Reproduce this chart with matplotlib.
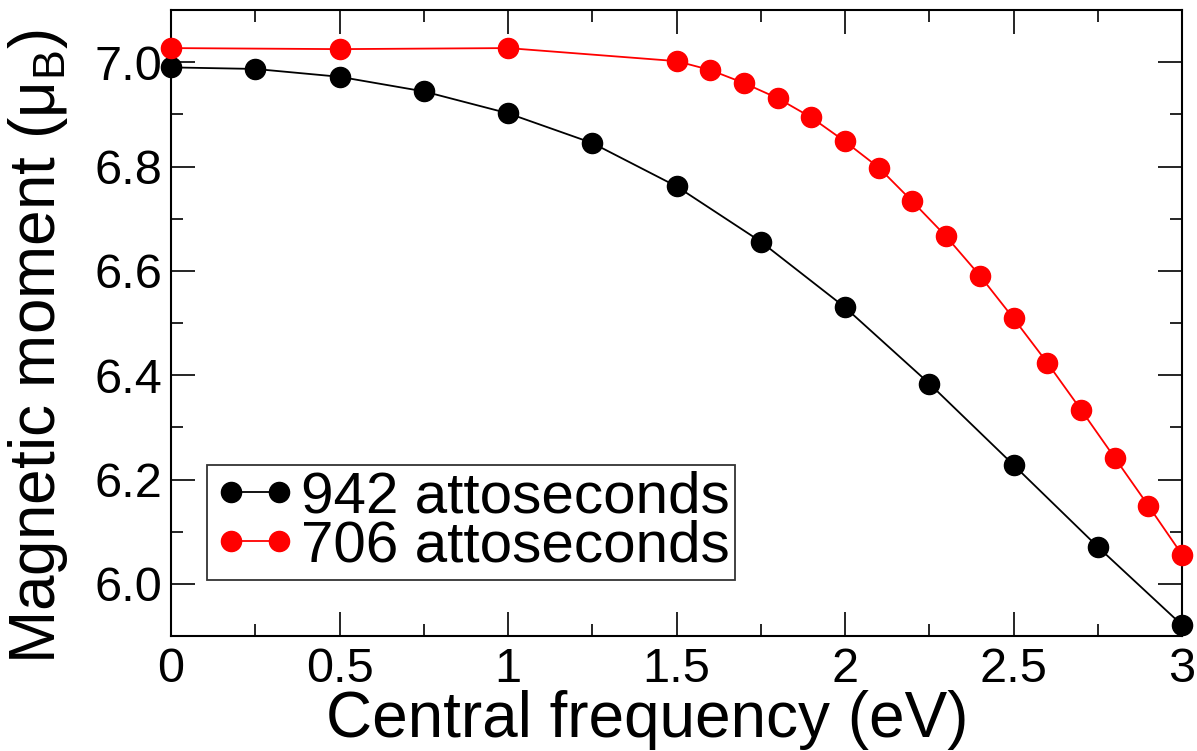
import numpy as np
import matplotlib
matplotlib.use('Agg')
import matplotlib.pyplot as plt

plt.rcParams['font.family'] = ['Liberation Sans', 'DejaVu Sans']
plt.rcParams['mathtext.fontset'] = 'custom'
plt.rcParams['mathtext.rm'] = 'Liberation Sans'
plt.rcParams['mathtext.it'] = 'Liberation Sans:italic'

# 942 attoseconds pulse
x_942 = [0, 0.25, 0.5, 0.75, 1.0, 1.25, 1.5, 1.75, 2.0, 2.25, 2.5, 2.75, 3.0]
m_942 = [6.990, 6.987, 6.972, 6.944, 6.902, 6.845, 6.762, 6.656, 6.530,
         6.384, 6.228, 6.071, 5.921]

# 706 attoseconds pulse
x_706 = [0, 0.5, 1.0, 1.5, 1.6, 1.7, 1.8, 1.9, 2.0, 2.1, 2.2, 2.3, 2.4,
         2.5, 2.6, 2.7, 2.8, 2.9, 3.0]
m_706 = [7.027, 7.025, 7.027, 7.002, 6.985, 6.960, 6.931, 6.894, 6.848,
         6.798, 6.733, 6.666, 6.591, 6.509, 6.424, 6.334, 6.242, 6.150, 6.056]

xticks = [0, 0.5, 1, 1.5, 2, 2.5, 3]
xtick_labels = ['0', '0.5', '1', '1.5', '2', '2.5', '3']
yticks = [6.0, 6.2, 6.4, 6.6, 6.8, 7.0]

fig = plt.figure(figsize=(11.97, 7.51), dpi=100)
ax = fig.add_axes([171/1197, 1-636/751, (1182-171)/1197, (636-10)/751])

ax.plot(x_942, m_942, color='black', lw=1.3, marker='o', ms=14.5,
        clip_on=False, label='942 attoseconds', zorder=3)
ax.plot(x_706, m_706, color='#ff0000', lw=1.3, marker='o', ms=14.5,
        clip_on=False, label='706 attoseconds', zorder=4)

ax.set_xlim(0, 3)
ax.set_ylim(5.9, 7.1)
ax.set_xticks(xticks)
ax.set_xticklabels(xtick_labels)
ax.set_xticks(np.arange(0, 3.01, 0.25), minor=True)
ax.set_yticks(yticks)
ax.set_yticklabels(['%.1f' % v for v in yticks])
ax.set_yticks(np.arange(5.9, 7.11, 0.1), minor=True)

ax.tick_params(which='both', direction='in', top=True, right=True, width=1.2)
ax.tick_params(which='major', length=17, labelsize=35)
ax.tick_params(which='minor', length=8.5)
ax.tick_params(axis='x', pad=8)
ax.tick_params(axis='y', pad=6)
for s in ax.spines.values():
    s.set_linewidth(1.5)

ax.set_xlabel('Central frequency (eV)', fontsize=46)
ax.set_ylabel(r'Magnetic moment (μ$_\mathrm{B}$)', fontsize=46)
ax.xaxis.set_label_coords(0.471, -0.162, transform=ax.transAxes)
ax.xaxis.label.set_va('baseline')
ax.yaxis.set_label_coords(-0.10, 0.462, transform=ax.transAxes)

leg = ax.legend(loc='lower left', bbox_to_anchor=(0.036, 0.09),
                borderaxespad=0, fontsize=42, frameon=True, fancybox=False,
                handlelength=1.42, handletextpad=0.08, borderpad=0.1,
                labelspacing=-0.08, numpoints=2)
leg.get_frame().set_edgecolor('black')
leg.get_frame().set_linewidth(1.3)

fig.savefig('out.png', dpi=100)
